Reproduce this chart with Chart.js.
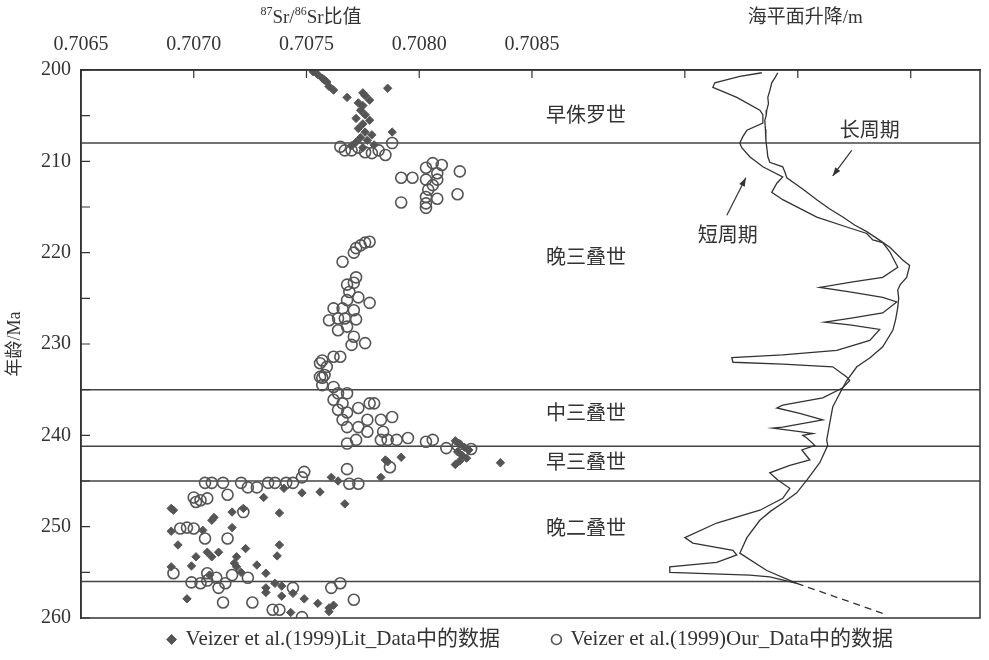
<!DOCTYPE html>
<html>
<head>
<meta charset="utf-8">
<script src="https://cdn.jsdelivr.net/npm/chart.js@4.4.0/dist/chart.umd.min.js"></script>
<style>
  html, body { margin: 0; padding: 0; background: #fff; }
</style>
</head>
<body>
<canvas id="srChart" width="989" height="660"></canvas>
<script>
// 87Sr/86Sr 比值 [Sr, 年龄 Ma]
const litPoints = [
  [0.70753,200.2],[0.70755,200.5],[0.70757,200.9],[0.70758,201.1],[0.70759,201.3],[0.70760,201.8],[0.70762,202.2],
  [0.70786,202.0],[0.70775,202.5],[0.70776,202.8],[0.70768,203.0],[0.70778,203.3],[0.70773,203.6],[0.70775,203.9],
  [0.70774,204.4],[0.70776,204.9],[0.70772,205.3],[0.70778,205.5],[0.70775,205.9],[0.70773,206.4],[0.70776,206.8],
  [0.70788,206.8],[0.70779,207.1],[0.70774,207.4],[0.70777,207.7],[0.70772,207.9],[0.70780,208.2],[0.70770,208.3],[0.70775,208.5],
  [0.70816,240.6],[0.70818,241.0],[0.70820,241.3],[0.70822,241.6],[0.70817,241.8],[0.70819,242.2],[0.70821,242.5],
  [0.70818,242.8],[0.70816,243.2],[0.70836,243.0],[0.70785,242.7],[0.70786,242.9],[0.70792,242.4],[0.70761,244.6],[0.70783,244.6],
  [0.70690,248.0],[0.70691,248.2],[0.70690,250.5],[0.70693,252.0],[0.70704,250.4],[0.70709,249.0],[0.70708,249.3],
  [0.70717,248.4],[0.70717,250.1],[0.70722,248.0],[0.70738,248.5],[0.70731,246.8],[0.70740,245.8],[0.70748,246.3],
  [0.70756,246.2],[0.70764,245.0],[0.70767,247.5],[0.70723,252.4],[0.70701,253.3],[0.70699,254.3],[0.70706,252.8],
  [0.70708,253.3],[0.70711,252.8],[0.70719,253.3],[0.70718,254.0],[0.70738,252.0],[0.70737,253.2],[0.70728,254.2],
  [0.70732,255.1],[0.70690,254.4],[0.70719,254.4],[0.70721,255.0],[0.70707,255.3],[0.70697,257.9],[0.70732,256.7],
  [0.70732,257.2],[0.70736,256.2],[0.70739,256.5],[0.70739,257.6],[0.70744,257.3],[0.70749,257.9],[0.70755,258.4],
  [0.70760,258.9],[0.70762,258.6],[0.70743,259.4],[0.70760,259.3]
];

const ourPoints = [
  [0.70765,208.4],[0.70767,208.8],[0.70770,208.8],[0.70773,208.5],[0.70776,209.0],[0.70779,209.1],[0.70782,208.8],
  [0.70785,209.3],[0.70788,208.0],[0.70806,210.2],[0.70810,210.4],[0.70818,211.1],[0.70803,210.7],[0.70808,211.3],
  [0.70792,211.8],[0.70797,211.8],[0.70803,212.0],[0.70808,212.0],[0.70806,212.6],[0.70804,213.1],[0.70803,213.9],
  [0.70808,214.1],[0.70817,213.6],[0.70792,214.5],[0.70803,214.6],[0.70803,215.1],
  [0.70778,218.8],[0.70776,218.9],[0.70774,219.2],[0.70772,219.5],[0.70771,220.0],[0.70766,221.0],[0.70772,222.7],
  [0.70771,223.3],[0.70768,223.5],[0.70769,224.3],[0.70773,224.9],[0.70768,225.2],[0.70778,225.5],[0.70762,226.1],
  [0.70766,226.1],[0.70771,226.3],[0.70764,227.2],[0.70767,227.2],[0.70772,227.3],[0.70760,227.4],[0.70768,228.1],
  [0.70764,228.5],[0.70771,229.2],[0.70776,229.9],[0.70770,230.1],[0.70762,231.4],[0.70765,231.4],[0.70757,231.8],
  [0.70756,232.1],[0.70759,232.5],[0.70758,233.4],[0.70756,233.6],
  [0.70757,233.7],[0.70757,234.5],[0.70762,234.7],[0.70764,235.4],[0.70768,235.4],[0.70762,236.1],[0.70766,236.5],
  [0.70778,236.5],[0.70780,236.5],[0.70773,237.0],[0.70764,237.2],[0.70768,237.5],[0.70788,238.0],[0.70777,238.3],
  [0.70783,238.3],[0.70766,238.3],[0.70768,239.1],[0.70773,239.1],[0.70777,239.6],[0.70784,239.6],[0.70795,240.3],
  [0.70783,240.5],[0.70772,240.5],[0.70786,240.5],[0.70790,240.5],[0.70806,240.5],[0.70803,240.7],[0.70768,240.9],
  [0.70817,241.1],[0.70812,241.4],[0.70823,241.5],[0.70787,243.5],[0.70768,243.7],[0.70749,244.0],
  [0.70748,244.6],[0.70705,245.2],[0.70708,245.2],[0.70713,245.2],[0.70721,245.2],[0.70733,245.2],[0.70736,245.2],
  [0.70741,245.2],[0.70744,245.2],[0.70769,245.3],[0.70773,245.3],[0.70724,245.7],[0.70728,245.7],[0.70715,246.5],
  [0.70700,246.8],[0.70706,246.9],[0.70703,247.1],[0.70701,247.3],[0.70722,248.4],[0.70697,250.1],[0.70694,250.2],
  [0.70700,250.2],[0.70705,251.3],[0.70715,251.3],
  [0.70691,255.1],[0.70706,255.1],[0.70717,255.3],[0.70710,255.6],[0.70724,255.6],[0.70706,255.9],[0.70699,256.1],
  [0.70703,256.2],[0.70714,256.2],[0.70765,256.2],[0.70711,256.7],[0.70744,256.7],[0.70761,256.7],[0.70771,258.0],
  [0.70713,258.3],[0.70726,258.3],[0.70735,259.1],[0.70738,259.1],[0.70748,259.9]
];

// 海平面升降 [m, 年龄 Ma]
const longCycle = [
  [-13.3,200.3],[-15,200.8],[-17.3,201.4],[-18.5,202.2],[-19.9,203.0],[-19.5,203.7],[-20.6,204.4],[-21,205.0],
  [-21.9,205.5],[-21.5,206.5],[-21.2,207.7],[-20.5,208.6],[-19.9,209.5],[-18.6,210.1],[-10.0,210.6],[-8.5,211.2],
  [-7.3,211.8],[3,213.0],[12.6,214.2],[21,215.2],[29.9,216.1],[38,217.0],[45.8,217.7],[54,218.6],[61.1,219.4],
  [69.7,220.8],[74.3,221.4],[72.3,222.7],[68,223.5],[66.4,224.1],[67,225.0],[66.4,226.0],[65,227.3],[63.1,228.5],
  [56.4,230.3],[48,231.5],[39.2,232.5],[32.5,234.0],[29.2,235.0],[26,236.0],[23.2,236.9],[21.2,238.7],[19.2,240.5],
  [19.9,241.1],[14.6,243.0],[6.0,244.9],[-0.7,246.3],[-10.0,247.4],[-18,248.3],[-25.2,249.3],[-33.8,251.2],
  [-38.5,252.9],[-20.6,254.8],[-0.7,256.2],[56.4,259.5]
];

const shortCycle = [
  [-23.9,200.3],[-38.5,200.7],[-55.1,201.4],[-56.4,201.9],[-40.5,203.0],[-25.2,204.4],[-23.2,204.9],[-23.2,205.8],
  [-33.8,206.6],[-36.5,207.3],[-38.5,208.0],[-37.2,208.5],[-31.9,209.5],[-23.2,210.6],[-10.0,211.7],[-13.9,212.4],
  [-17.3,213.4],[-10.0,214.2],[12.6,216.1],[34.5,217.3],[45.8,217.9],[49.8,218.6],[56.4,218.9],[61.1,219.9],
  [66.4,221.6],[56.4,222.7],[36.5,223.2],[14.6,223.8],[34.5,224.3],[56.4,224.9],[65.7,225.4],[56.4,226.6],
  [34.5,227.2],[17.9,227.6],[34.5,227.9],[54.4,228.4],[47.8,229.6],[25.9,230.7],[-10.0,231.2],[-43.8,231.5],
  [-43.1,232.0],[-10.0,232.2],[23.2,232.5],[32.5,233.6],[34.5,234.0],[29.9,234.8],[16.6,235.9],[-10.0,236.7],
  [-13.9,237.0],[1.3,237.6],[16.6,238.3],[-10.0,239.1],[-16.6,239.2],[1.3,239.6],[10.0,239.8],[3.3,240.0],
  [6.0,240.3],[11.3,241.1],[2.7,241.6],[8.0,242.7],[-5.3,243.3],[-18.6,244.1],[-13.3,244.9],[-5.3,245.8],
  [-10.0,246.9],[-25.2,248.2],[-53.8,249.6],[-75.0,251.2],[-69.7,251.8],[-43.1,252.6],[-40.5,253.1],[-53.8,253.9],
  [-85.0,254.4],[-85.0,255.0],[-31.9,255.3],[-18.6,255.5],[-0.7,256.2]
];

const boundaries = [208, 235, 241.2, 245, 256];
const epochNames = ['早侏罗世', '晚三叠世', '中三叠世', '早三叠世', '晚二叠世'];
const srTicks = [0.7065, 0.7070, 0.7075, 0.7080, 0.7085];
const seaTicks = [-75, 0, 75];

const SR_MIN = 0.7065, SR_MAX = 0.710487;
const SEA_MIN = -476, SEA_MAX = 121;
const INK = '#333';
const SERIF = '"Liberation Serif", "Noto Sans CJK SC", serif';
const CJK = '"Noto Sans CJK SC", sans-serif';

const toXY = arr => arr.map(p => ({ x: p[0], y: p[1] }));

const boundaryDatasets = boundaries.map(age => ({
  label: 'b' + age,
  data: [{ x: SR_MIN, y: age }, { x: SR_MAX, y: age }],
  showLine: true,
  borderColor: '#444',
  borderWidth: 1.5,
  pointRadius: 0,
  order: 3
}));

// 边框、向内刻度、标题和注释
const decorPlugin = {
  id: 'decor',
  afterDatasetsDraw(chart) {
    const { ctx, chartArea: a, scales } = chart;
    ctx.save();
    ctx.strokeStyle = INK;
    ctx.lineWidth = 1.5;
    ctx.strokeRect(a.left, a.top, a.right - a.left, a.bottom - a.top);

    ctx.lineWidth = 1.2;
    ctx.beginPath();
    ['x', 'x2'].forEach(id => {
      scales[id].ticks.forEach(t => {
        const px = scales[id].getPixelForValue(t.value);
        ctx.moveTo(px, a.top); ctx.lineTo(px, a.top + 8);
      });
    });
    scales.y.ticks.forEach(t => {
      const py = scales.y.getPixelForValue(t.value);
      ctx.moveTo(a.left, py); ctx.lineTo(a.left + 9, py);
    });
    ctx.stroke();

    // 上方两个轴名
    ctx.fillStyle = INK;
    ctx.textBaseline = 'middle';
    const sx = scales.x.getPixelForValue(0.70752);
    const parts = [['87', true], ['Sr/', false], ['86', true], ['Sr比值', false]];
    let w = 0;
    parts.forEach(p => { ctx.font = (p[1] ? '12px ' : '19px ') + SERIF; w += ctx.measureText(p[0]).width; });
    let cx = sx - w / 2;
    ctx.textAlign = 'left';
    parts.forEach(p => {
      ctx.font = (p[1] ? '12px ' : '19px ') + SERIF;
      ctx.fillText(p[0], cx, p[1] ? 12 : 18);
      cx += ctx.measureText(p[0]).width;
    });
    ctx.textAlign = 'center';
    ctx.font = '19px ' + SERIF;
    ctx.fillText('海平面升降/m', scales.x2.getPixelForValue(5), 18);

    // 地层年代
    ctx.font = '20px ' + CJK;
    const epochAges = [204.9, 220.4, 237.5, 242.9, 250.1];
    epochNames.forEach((n, i) => {
      ctx.fillText(n, scales.x.getPixelForValue(0.70874), scales.y.getPixelForValue(epochAges[i]));
    });

    // 长周期 / 短周期 注释
    const sea = v => scales.x2.getPixelForValue(v);
    const age = v => scales.y.getPixelForValue(v);
    ctx.fillText('长周期', sea(47.8), age(206.5));
    ctx.fillText('短周期', sea(-46.5), age(218.0));
    const arrow = (x1, y1, x2, y2) => {
      ctx.beginPath(); ctx.moveTo(x1, y1); ctx.lineTo(x2, y2); ctx.stroke();
      const ang = Math.atan2(y2 - y1, x2 - x1);
      ctx.beginPath();
      ctx.moveTo(x2, y2);
      ctx.lineTo(x2 - 9 * Math.cos(ang - 0.35), y2 - 9 * Math.sin(ang - 0.35));
      ctx.lineTo(x2 - 9 * Math.cos(ang + 0.35), y2 - 9 * Math.sin(ang + 0.35));
      ctx.closePath(); ctx.fill();
    };
    ctx.lineWidth = 1.2;
    arrow(sea(35.8), age(208.8), sea(23.2), age(211.6));
    arrow(sea(-47.1), age(215.9), sea(-34.5), age(211.8));
    ctx.restore();
  }
};

new Chart(document.getElementById('srChart'), {
  type: 'scatter',
  data: {
    datasets: [
      {
        label: 'Veizer et al.(1999)Lit_Data中的数据        ',
        data: toXY(litPoints),
        xAxisID: 'x',
        pointStyle: 'rectRot',
        pointRadius: 4.2,
        backgroundColor: '#555',
        borderColor: '#555',
        borderWidth: 1,
        order: 0
      },
      {
        label: 'Veizer et al.(1999)Our_Data中的数据',
        data: toXY(ourPoints),
        xAxisID: 'x',
        pointStyle: 'circle',
        pointRadius: 5.5,
        backgroundColor: 'rgba(0,0,0,0)',
        borderColor: '#555',
        borderWidth: 1.6,
        order: 1
      },
      {
        label: '长周期',
        data: toXY(longCycle),
        xAxisID: 'x2',
        showLine: true,
        borderColor: INK,
        borderWidth: 1.3,
        pointRadius: 0,
        segment: { borderDash: c => (c.p0.parsed.y >= 256 ? [7, 5] : undefined) },
        order: 2
      },
      {
        label: '短周期',
        data: toXY(shortCycle),
        xAxisID: 'x2',
        showLine: true,
        borderColor: INK,
        borderWidth: 1.3,
        pointRadius: 0,
        order: 2
      },
      ...boundaryDatasets
    ]
  },
  options: {
    responsive: false,
    animation: false,
    layout: { padding: { left: 0, right: 9, top: 0, bottom: 0 } },
    scales: {
      x: {
        type: 'linear',
        position: 'top',
        weight: 1,
        min: SR_MIN,
        max: SR_MAX,
        afterBuildTicks: s => { s.ticks = srTicks.map(v => ({ value: v })); },
        afterFit: s => { s.height = 70; },
        ticks: {
          autoSkip: false, maxRotation: 0, padding: 13, color: INK,
          font: { family: SERIF, size: 20 },
          callback: v => v.toFixed(4)
        },
        grid: { drawOnChartArea: false, drawTicks: false },
        border: { display: true, color: INK, width: 1.5 }
      },
      x2: {
        type: 'linear',
        position: 'top',
        weight: 0,
        min: SEA_MIN,
        max: SEA_MAX,
        afterBuildTicks: s => { s.ticks = seaTicks.map(v => ({ value: v })); },
        afterFit: s => { s.height = 0; },
        ticks: {
          autoSkip: false, maxRotation: 0, padding: 13, color: INK,
          font: { family: SERIF, size: 20 },
          callback: v => (v < 0 ? '\u2212' + Math.abs(v) : String(v))
        },
        grid: { drawOnChartArea: false, drawTicks: false },
        border: { display: false }
      },
      y: {
        type: 'linear',
        position: 'left',
        reverse: true,
        min: 200,
        max: 260,
        afterFit: s => { s.width = 81; },
        ticks: {
          stepSize: 5, padding: 10, color: INK,
          font: { family: SERIF, size: 20 },
          callback: v => (v % 10 === 0 ? v : '')
        },
        title: {
          display: true, text: '年龄/Ma', color: INK,
          font: { family: SERIF, size: 18 },
          padding: { top: 4, bottom: 0 }
        },
        grid: { drawOnChartArea: false, drawTicks: false },
        border: { display: true, color: INK, width: 1.5 }
      }
    },
    plugins: {
      tooltip: { enabled: false },
      legend: {
        position: 'bottom',
        fullSize: false,
        labels: {
          usePointStyle: true,
          boxHeight: 7,
          boxWidth: 7,
          padding: 11,
          color: INK,
          font: { family: SERIF, size: 21 },
          filter: item => item.datasetIndex < 2
        }
      }
    }
  },
  plugins: [decorPlugin]
});
</script>
</body>
</html>
